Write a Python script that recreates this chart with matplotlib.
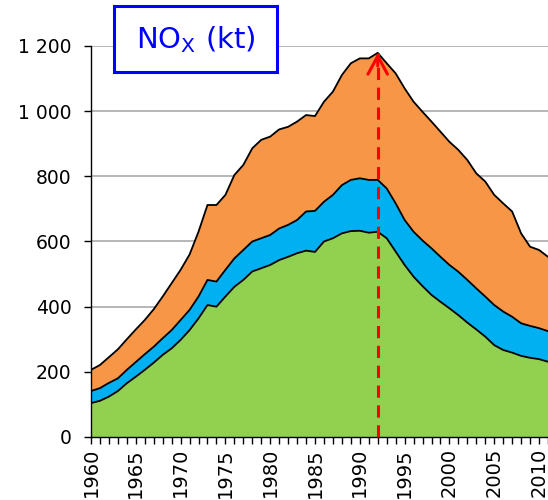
import matplotlib
matplotlib.use('Agg')
import matplotlib.pyplot as plt
from matplotlib.patches import Rectangle
from matplotlib.ticker import MultipleLocator, FuncFormatter
import numpy as np

years = list(range(1960, 2012))

# kt (bottom to top)
green = [104, 111, 124, 141, 165, 185, 206, 228, 252, 272,
         298, 328, 364, 405, 400, 431, 461, 482, 508, 518,
         528, 543, 553, 564, 572, 568, 600, 610, 625, 632,
         633, 627, 630, 610, 569, 528, 492, 463, 436, 415,
         395, 374, 351, 330, 308, 282, 267, 259, 249, 243,
         239, 231]
blue = [37, 39, 42, 39, 41, 45, 48, 49, 51, 56,
        61, 62, 67, 77, 77, 82, 87, 92, 92, 92,
        92, 97, 98, 102, 120, 126, 122, 133, 148, 157,
        161, 162, 159, 153, 148, 138, 138, 140, 143, 138,
        133, 133, 131, 126, 123, 123, 118, 110, 100, 98,
        95, 94]
orange = [65, 71, 79, 89, 94, 100, 105, 115, 128, 144,
          154, 170, 199, 230, 235, 230, 256, 261, 286, 302,
          302, 304, 301, 302, 296, 291, 307, 317, 338, 358,
          368, 373, 390, 384, 399, 404, 399, 395, 389, 384,
          378, 374, 368, 353, 353, 338, 332, 323, 276, 243,
          240, 228]
colors = ['#92D050', '#00B0F0', '#F79646']

peak_year = 1992
title = r'NO$_\mathrm{X}$ (kt)'

fig = plt.figure(figsize=(5.48, 5.0), dpi=100)
ax = fig.add_axes([0.166, 0.126, 0.834, 0.782])

ax.stackplot(years, green, blue, orange, colors=colors, linewidth=0, zorder=2)
cum = np.cumsum([green, blue, orange], axis=0)
for row in cum:
    ax.plot(years, row, color='black', lw=1.3, zorder=3)

ax.set_xlim(1960, 2011)
ax.set_ylim(0, 1200)
ax.yaxis.set_major_locator(MultipleLocator(200))
ax.yaxis.set_major_formatter(FuncFormatter(lambda v, p: f'{int(v):,}'.replace(',', ' ')))
ax.xaxis.set_major_locator(MultipleLocator(5))
ax.xaxis.set_minor_locator(MultipleLocator(1))
ax.grid(axis='y', color='#aaaaaa', lw=1.2, zorder=0)
ax.set_axisbelow(True)

for s in ['top', 'right']:
    ax.spines[s].set_visible(False)
for s in ['left', 'bottom']:
    ax.spines[s].set_linewidth(1.0)
    ax.spines[s].set_zorder(4)

ax.tick_params(axis='y', which='major', length=5, width=1, labelsize=13.5, pad=9)
ax.tick_params(axis='x', which='both', length=5, width=1, direction='out')
ax.tick_params(axis='x', which='major', labelsize=14, labelrotation=90, pad=3)

# dashed line up to the peak with an open arrow head
peak_total = cum[-1][years.index(peak_year)]
ax.plot([peak_year, peak_year], [0, peak_total], color='#ff0000', lw=2.2,
        linestyle=(0, (4, 2.5)), zorder=5, clip_on=False)
ax.annotate('', xy=(peak_year, peak_total), xytext=(peak_year, peak_total - 40),
            arrowprops=dict(arrowstyle='->,head_length=0.65,head_width=0.35',
                            color='#ff0000', lw=2.2, mutation_scale=20,
                            shrinkA=0, shrinkB=0), zorder=6)

fig.patches.append(Rectangle((0.208, 0.856), 0.2975, 0.132, transform=fig.transFigure,
                             facecolor='white', edgecolor='#0000ff', lw=2.2, zorder=10))
fig.text(0.357, 0.921, title, color='#0000ff', fontsize=21, ha='center', va='center', zorder=11)

fig.savefig('out.png', dpi=100)
